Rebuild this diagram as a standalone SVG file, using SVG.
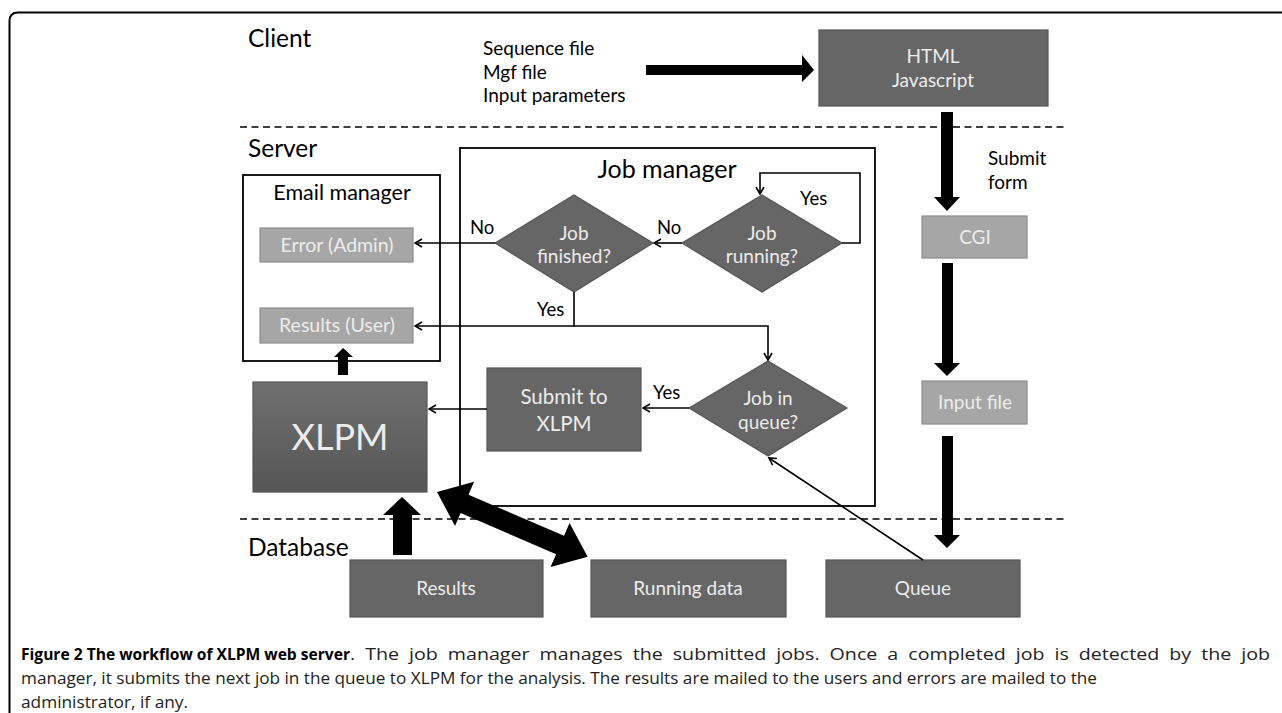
<svg xmlns="http://www.w3.org/2000/svg" width="1282" height="713" viewBox="0 0 1282 713">
<defs>
<style>
.lbl{font-family:Lato,"Open Sans","Liberation Sans",sans-serif;fill:#000}
.wt{font-family:Lato,"Open Sans","Liberation Sans",sans-serif;fill:#ececec;text-anchor:middle}
.dark{fill:#666;stroke:#555;stroke-width:1.2}
.light{fill:#a6a6a6;stroke:#8c8c8c;stroke-width:1.2}
.frame{fill:none;stroke:#000;stroke-width:1.8}
.conn{fill:none;stroke:#000;stroke-width:1.6}
.dash{fill:none;stroke:#000;stroke-width:1.5;stroke-dasharray:7 4.5}
.thick{fill:#000}
.cap{font-family:"Open Sans","Liberation Sans",sans-serif;font-size:16px;fill:#222}
</style>
<marker id="arr" viewBox="0 0 10 10" refX="9" refY="5" markerWidth="10" markerHeight="10" markerUnits="userSpaceOnUse" orient="auto">
<path d="M2,1 L9,5 L2,9" fill="none" stroke="#000" stroke-width="1.6"/>
</marker>
<linearGradient id="xg" x1="0" y1="0" x2="0" y2="1">
<stop offset="0" stop-color="#707070"/>
<stop offset="1" stop-color="#565656"/>
</linearGradient>
</defs>
<rect width="1282" height="713" fill="#fff"/>
<path d="M1290,12.5 H18 Q9.5,12.5 9.5,21 V720" fill="none" stroke="#000" stroke-width="2"/>

<g id="sections">
<text class="lbl" x="248" y="47" font-size="24.5">Client</text>
<text class="lbl" x="248" y="157" font-size="24.5">Server</text>
<text class="lbl" x="248" y="556" font-size="24.5">Database</text>
<line class="dash" x1="240" y1="127" x2="1068" y2="127"/>
<line class="dash" x1="240" y1="519" x2="1068" y2="519"/>
</g>

<g id="inputs">
<text class="lbl" x="483" y="55" font-size="19">Sequence file</text>
<text class="lbl" x="483" y="79" font-size="19">Mgf file</text>
<text class="lbl" x="483" y="102" font-size="19">Input parameters</text>
</g>

<g id="html">
<rect class="dark" x="819" y="30" width="229" height="76"/>
<text class="wt" x="933" y="63" font-size="19">HTML</text>
<text class="wt" x="933" y="87" font-size="19">Javascript</text>
</g>

<g id="submitform">
<text class="lbl" x="988" y="165" font-size="19">Submit</text>
<text class="lbl" x="988" y="189" font-size="19">form</text>
</g>

<g id="cgi">
<rect class="light" x="922" y="216" width="105" height="42"/>
<text class="wt" x="975" y="244" font-size="19">CGI</text>
</g>

<g id="inputfile">
<rect class="light" x="922" y="381" width="105" height="43"/>
<text class="wt" x="975" y="409" font-size="19">Input file</text>
</g>

<g id="emailmanager">
<rect class="frame" x="243" y="175" width="197" height="186"/>
<text class="lbl" x="342" y="200" font-size="21.5" text-anchor="middle">Email manager</text>
</g>

<g id="erroradmin">
<rect class="light" x="260" y="228" width="153" height="34"/>
<text class="wt" x="337" y="252" font-size="19.5">Error (Admin)</text>
</g>

<g id="resultsuser">
<rect class="light" x="260" y="308" width="153" height="35"/>
<text class="wt" x="337" y="332" font-size="19.5">Results (User)</text>
</g>

<g id="jobmanager">
<rect class="frame" x="460" y="148" width="415" height="358"/>
<text class="lbl" x="667" y="178" font-size="25" text-anchor="middle">Job manager</text>
</g>

<g id="jobfinished">
<polygon class="dark" points="574,195 653,243 574,292 495,243"/>
<text class="wt" x="574" y="240" font-size="19">Job</text>
<text class="wt" x="574" y="263" font-size="19">finished?</text>
</g>

<g id="jobrunning">
<polygon class="dark" points="762,195 842,243 762,292 682,243"/>
<text class="wt" x="762" y="240" font-size="19">Job</text>
<text class="wt" x="762" y="263" font-size="19">running?</text>
</g>

<g id="jobinqueue">
<polygon class="dark" points="768,361 847,408 768,456 689,408"/>
<text class="wt" x="768" y="405" font-size="19">Job in</text>
<text class="wt" x="768" y="429" font-size="19">queue?</text>
</g>

<g id="submittoxlpm">
<rect class="dark" x="487" y="368" width="154" height="83"/>
<text class="wt" x="564" y="404" font-size="20.5">Submit to</text>
<text class="wt" x="564" y="431" font-size="20.5">XLPM</text>
</g>

<g id="xlpm">
<rect x="253" y="382" width="174" height="110" fill="url(#xg)" stroke="#555" stroke-width="1.2"/>
<text class="wt" x="340" y="450" font-size="36">XLPM</text>
</g>

<g id="results">
<rect class="dark" x="350" y="560" width="193" height="57"/>
<text class="wt" x="446" y="595" font-size="19">Results</text>
</g>

<g id="runningdata">
<rect class="dark" x="591" y="560" width="195" height="57"/>
<text class="wt" x="688" y="595" font-size="19">Running data</text>
</g>

<g id="queue">
<rect class="dark" x="826" y="560" width="194" height="57"/>
<text class="wt" x="923" y="595" font-size="19">Queue</text>
</g>

<g id="connectors">
<polygon class="thick" points="646,65 802,65 802,55 814,70 802,82 802,75 646,75"/>
<polygon class="thick" points="941,112 953,112 953,197 960,197 947,211 934,197 941,197"/>
<polygon class="thick" points="942,263 953,263 953,363 960,363 947,376 934,363 942,363"/>
<polygon class="thick" points="942,436 953,436 953,535 960,535 947,548 934,535 942,535"/>
<polygon class="thick" points="393,555 393,515 383,515 402,497 421,515 412,515 412,555"/>
<polygon class="thick" points="338,375 338,357 334,357 343,348 353,357 348,357 348,375"/>
<g transform="translate(437,492) rotate(23.3)">
<polygon class="thick" points="0,0 30,-24 30,-10 134,-10 134,-24 164,0 134,24 134,10 30,10 30,24"/>
</g>
<path class="conn" d="M682,243 H654" marker-end="url(#arr)"/>
<path class="conn" d="M495,243 H415" marker-end="url(#arr)"/>
<path class="conn" d="M842,243 H860 V173 H760 V194" marker-end="url(#arr)"/>
<path class="conn" d="M574,292 V326 H768 V360" marker-end="url(#arr)"/>
<path class="conn" d="M574,326 H415" marker-end="url(#arr)"/>
<path class="conn" d="M689,408 H643" marker-end="url(#arr)"/>
<path class="conn" d="M487,409 H429" marker-end="url(#arr)"/>
<path class="conn" d="M923,560 L769,458" marker-end="url(#arr)"/>
<text class="lbl" x="470" y="234" font-size="18.5">No</text>
<text class="lbl" x="657" y="234" font-size="18.5">No</text>
<text class="lbl" x="800" y="205" font-size="18.5">Yes</text>
<text class="lbl" x="537" y="316" font-size="18.5">Yes</text>
<text class="lbl" x="653" y="399" font-size="18.5">Yes</text>
</g>

<g id="caption">
<text class="cap" y="660"><tspan x="21" font-weight="bold" fill="#000" textLength="329" lengthAdjust="spacingAndGlyphs">Figure 2 The workflow of XLPM web server</tspan><tspan x="350" word-spacing="4" textLength="920" lengthAdjust="spacingAndGlyphs">. The job manager manages the submitted jobs. Once a completed job is detected by the job</tspan></text>
<text class="cap" x="21" y="684" textLength="1076" lengthAdjust="spacingAndGlyphs">manager, it submits the next job in the queue to XLPM for the analysis. The results are mailed to the users and errors are mailed to the</text>
<text class="cap" x="21" y="708" textLength="167" lengthAdjust="spacingAndGlyphs">administrator, if any.</text>
</g>
</svg>
